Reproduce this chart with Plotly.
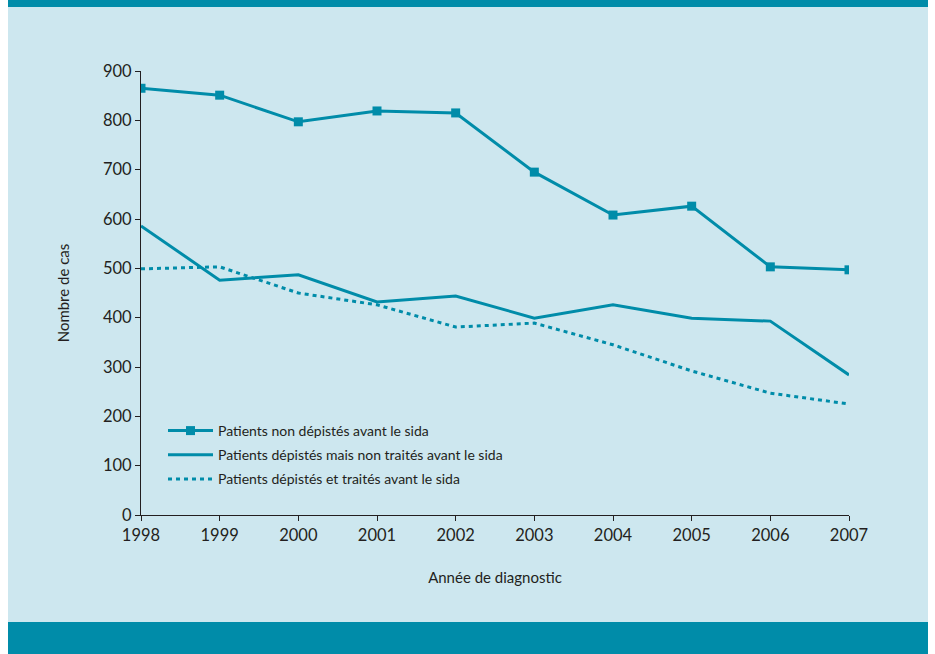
import plotly.graph_objects as go

years = [1998, 1999, 2000, 2001, 2002, 2003, 2004, 2005, 2006, 2007]
non_depistes = [865, 851, 797, 819, 815, 695, 608, 626, 503, 497]
depistes_non_traites = [586, 476, 487, 432, 444, 399, 426, 399, 393, 284]
depistes_traites = [499, 503, 450, 426, 381, 389, 345, 292, 247, 225]

names = [
    "Patients non dépistés avant le sida",
    "Patients dépistés mais non traités avant le sida",
    "Patients dépistés et traités avant le sida",
]

TEAL = "#008CA9"
BG = "#CDE7EF"
DARK = "#231F20"
FONT = "Lato, Roboto, Open Sans, sans-serif"

W, H = 935, 654
L, R, T, B = 141, 86, 71, 139
pw, ph = W - L - R, H - T - B

def px(x):
    return (x - L) / pw

def py(y):
    return (H - B - y) / ph

fig = go.Figure()
fig.add_trace(go.Scatter(x=years, y=non_depistes, name=names[0], mode="lines+markers",
                         line=dict(color=TEAL, width=3), marker=dict(symbol="square", size=9, color=TEAL),
                         legendgroup="a"))
fig.add_trace(go.Scatter(x=years, y=depistes_non_traites, name=names[1], mode="lines",
                         line=dict(color=TEAL, width=3), legendgroup="b"))
fig.add_trace(go.Scatter(x=years, y=depistes_traites, name=names[2], mode="lines",
                         line=dict(color=TEAL, width=3, dash="4px,4px"), legendgroup="c"))

shapes = [
    dict(type="rect", xref="paper", yref="paper", x0=px(8), x1=px(928), y0=py(0), y1=py(7),
         fillcolor=TEAL, line_width=0, layer="below"),
    dict(type="rect", xref="paper", yref="paper", x0=px(8), x1=px(928), y0=py(7), y1=py(622),
         fillcolor=BG, line_width=0, layer="below"),
    dict(type="rect", xref="paper", yref="paper", x0=px(8), x1=px(928), y0=py(622), y1=py(654),
         fillcolor=TEAL, line_width=0, layer="below"),
]

fig.update_layout(
    width=W, height=H,
    margin=dict(l=L, r=R, t=T, b=B),
    paper_bgcolor="white", plot_bgcolor="rgba(0,0,0,0)",
    font=dict(family=FONT, size=16.5, color=DARK),
    shapes=shapes,
    showlegend=True,
    legend=dict(x=px(163), y=py(415), xanchor="left", yanchor="top",
                bgcolor="rgba(0,0,0,0)", font=dict(size=14, color=DARK),
                traceorder="grouped", tracegroupgap=3, itemwidth=45),
    xaxis=dict(range=[1998, 2007], tickvals=years, ticktext=[str(y) for y in years],
               showgrid=False, zeroline=False, showline=True, linecolor=DARK, linewidth=1,
               ticks="outside", ticklen=5, tickcolor=DARK,
               title=dict(text="Année de diagnostic", standoff=28, font=dict(size=15))),
    yaxis=dict(range=[0, 900], tickvals=list(range(0, 1000, 100)),
               showgrid=False, zeroline=False, showline=True, linecolor=DARK, linewidth=1,
               ticks="outside", ticklen=5, tickcolor=DARK,
               title=dict(text="Nombre de cas", standoff=29, font=dict(size=15))),
)

fig.write_html("out.html", config={"displayModeBar": False},
               post_script="document.body.style.margin='0';document.body.style.overflow='hidden';")
